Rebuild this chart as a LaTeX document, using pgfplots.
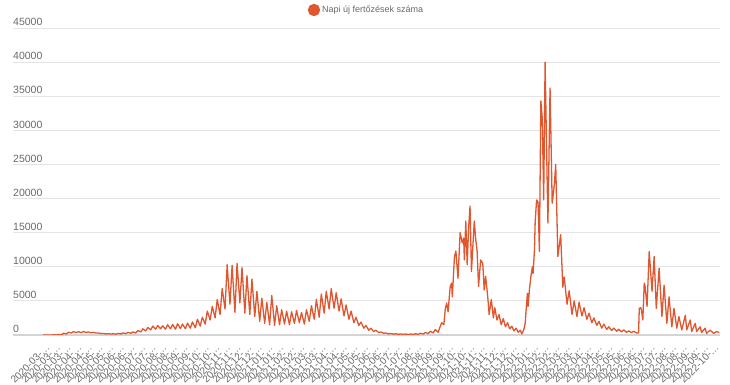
\documentclass[border=0pt]{standalone}
\usepackage{fontspec}
\setmainfont{Liberation Sans}
\usepackage{pgfplots}
\pgfplotsset{compat=1.18}
\definecolor{lc}{RGB}{224,86,46}
\definecolor{gridc}{RGB}{228,228,228}
\definecolor{axc}{RGB}{212,212,212}
\definecolor{txt}{RGB}{105,105,105}
\begin{document}
\begin{tikzpicture}
\begin{axis}[name=ax,
  scale only axis, width=707bp, height=307bp,
  xmin=-42.4, xmax=956, ymin=0, ymax=45000,
  axis x line*=bottom, axis y line*=left,
  x axis line style={draw=axc, line width=1.3bp},
  y axis line style={draw=none},
  scaled y ticks=false,
  ytick={0,5000,...,45000},
  yticklabels={0,5000,10000,15000,20000,25000,30000,35000,40000,45000},
  ymajorgrids, y grid style={draw=gridc, line width=0.8bp},
  major tick length=0pt,
  yticklabel style={anchor=south west, inner sep=0pt, yshift=2bp, text=txt, font=\fontsize{10.5bp}{12bp}\selectfont},
  xtick={7,22,...,952},
  xticklabels={2020-03-…,2020-03-…,2020-03-…,
  2020-04-…,2020-04-…,2020-05-…,2020-05-…,2020-06-…,2020-06-…,2020-07-…,2020-07-…,2020-08-…,2020-08-…,2020-09-…,2020-09-…,2020-10-…,2020-10-…,2020-11-…,2020-11-…,2020-12-…,2020-12-…,
  2021-01-…,2021-01-…,2021-02-…,2021-02-…,2021-03-…,2021-03-…,2021-04-…,2021-04-…,2021-05-…,2021-05-…,2021-06-…,2021-06-…,2021-07-…,2021-07-…,2021-08-…,2021-08-…,2021-09-…,2021-09-…,2021-10-…,2021-10-…,2021-11-…,2021-11-…,2021-12-…,2021-12-…,
  2022-01-…,2022-01-…,2022-02-…,2022-02-…,2022-03-…,2022-03-…,2022-04-…,2022-04-…,2022-05-…,2022-05-…,2022-06-…,2022-06-…,2022-07-…,2022-07-…,2022-08-…,2022-08-…,2022-09-…,2022-09-…,
  2022-10-…},
  xticklabel style={yshift=-11bp, rotate=45, anchor=east, inner sep=0pt, text=txt, font=\fontsize{10bp}{11bp}\selectfont},
  legend style={at={(axis description cs:0.5,1)}, anchor=center, yshift=18bp, draw=none, fill=none,
    font=\fontsize{9bp}{11bp}\selectfont, text=txt},
  legend image code/.code={\fill[lc] (0bp,0bp) circle (5.5bp);},
]
\addplot[color=lc, line width=1.3bp, line join=round, mark=none] coordinates {
(0,0)(1,2)(5,0)(8,5)(12,3)(15,20)(19,10)(22,60)(26,40)(29,250)(33,150)(36,400)(40,300)(43,500)(47,350)(50,480)(54,330)(57,520)(61,360)(64,450)(68,320)(71,400)(75,280)(78,300)(82,200)(85,230)(89,150)(92,200)(96,130)(99,180)(103,120)(106,230)(110,150)(113,300)(117,200)(120,380)(124,250)(127,450)(131,300)(134,650)(138,450)(141,900)(145,600)(148,1100)(152,750)(155,1300)(159,850)(162,1400)(166,900)(169,1350)(173,850)(176,1500)(180,900)(183,1550)(187,850)(190,1650)(194,950)(197,1600)(201,900)(204,1750)(208,1000)(211,1900)(215,1050)(218,2300)(222,1300)(225,2600)(229,1600)(232,3500)(236,2200)(239,4200)(243,2500)(246,5200)(250,3000)(253,6800)(257,3800)(260,10300)(264,4500)(267,10200)(271,3300)(274,10500)(278,4700)(281,9900)(285,3200)(288,8700)(292,3000)(295,8200)(299,2700)(302,6400)(306,2000)(309,5400)(313,1700)(316,4800)(320,1500)(323,5800)(327,1400)(330,4300)(334,1500)(337,3700)(341,1600)(344,3500)(348,1500)(351,3400)(355,1700)(358,3600)(362,1800)(365,3300)(369,1600)(372,3700)(376,2000)(379,4300)(383,2300)(386,5200)(390,2600)(393,6000)(397,3200)(400,6400)(404,3800)(407,6800)(411,3900)(414,6200)(418,3500)(421,5300)(425,2800)(428,4400)(432,2300)(435,3500)(439,1800)(442,2600)(446,1400)(449,1900)(453,1000)(456,1400)(460,700)(463,1000)(467,500)(470,700)(474,350)(477,450)(481,250)(484,300)(488,150)(491,220)(495,120)(498,180)(502,100)(505,150)(509,80)(512,140)(516,70)(519,150)(523,80)(526,180)(530,100)(533,250)(537,130)(540,380)(544,200)(547,550)(551,300)(554,800)(558,400)
(560,1000)(563,1800)(566,1500)(568,3800)(570,4700)(572,3400)(575,7100)(577,7600)(578,5600)(581,11500)(583,12300)(586,8300)(589,15000)(592,13500)(594,14200)(595,11000)(597,16700)(599,10300)(601,15700)(603,18900)(605,9300)(609,16700)(611,14000)(613,12300)(615,7100)(618,11000)(621,10500)(623,6600)(625,8600)(628,5600)(630,3000)(633,5200)(636,2500)(638,4000)(641,2200)(644,3000)(647,1500)(650,2400)(653,1200)(656,1800)(659,900)(662,1300)(665,600)(668,1000)(671,400)(674,700)
(676,150)(679,800)(681,1800)(682,3400)(684,6100)(685,4200)(687,6800)(689,8600)(691,10000)(692,9000)(694,12500)(695,16600)(697,19800)(699,19500)(701,12250)(703,34300)(705,31800)(707,19800)(709,40000)(711,28000)(713,16400)(716,36200)(719,19300)(722,22000)(724,25000)(727,11500)(731,14700)(734,7000)
(736,8500)(740,4500)(743,6500)(747,3000)(750,5000)(754,2700)(757,4800)(761,2800)(764,4000)(768,2300)(771,3200)(775,1800)(778,2500)(782,1400)(785,2000)(789,1000)(792,1600)(796,800)(799,1200)(803,650)(806,1000)(810,550)(813,850)(817,450)(820,750)(824,400)(827,600)(831,350)(834,550)(838,300)
(841,300)(842,3900)(844,4000)(845,3700)(847,2200)(849,7600)(850,7300)(853,4200)(856,12250)(860,6400)(863,11500)(866,3900)(870,9800)(874,2700)(877,7300)(881,1700)(884,5600)(888,1200)(891,3900)(895,1000)(898,2700)(902,750)(907,2900)(909,750)(914,2200)(916,500)(921,1700)(923,500)(928,1200)(930,350)(935,1000)(937,250)(942,700)(947,250)(951,500)(955,350)
};
\addlegendentry{Napi új fertőzések száma}
\end{axis}
\pgfresetboundingbox
\path ([shift={(-13bp,-50bp)}]ax.south west) rectangle ([shift={(10bp,28bp)}]ax.north east);
\end{tikzpicture}
\end{document}
